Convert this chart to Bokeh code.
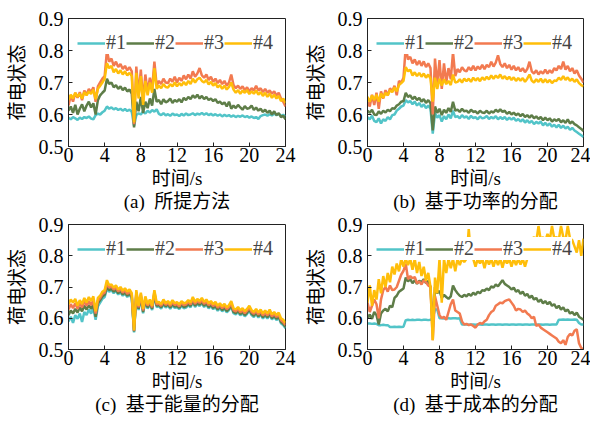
from bokeh.plotting import figure
from bokeh.layouts import column, row
from bokeh.models import FixedTicker, Range1d
from bokeh.embed import file_html
from bokeh.resources import INLINE

# time axis, 0.25 s sampling
t = [i / 4 for i in range(97)]

series_names = ["#1", "#2", "#3", "#4"]
colors = ["#52C4C8", "#5E7D48", "#F27A50", "#FFBE0A"]
x_ticks = [0, 4, 8, 12, 16, 20, 24]
y_ticks = [0.5, 0.6, 0.7, 0.8, 0.9]
captions = ["(a)\u00a0\u00a0所提方法", "(b)\u00a0\u00a0基于功率的分配",
            "(c)\u00a0\u00a0基于能量的分配", "(d)\u00a0\u00a0基于成本的分配"]
x_label = "时间/s"
y_label = "荷电状态"

# ---------- (a) proposed method ----------
a1 = [0.590, 0.585, 0.592, 0.588, 0.583, 0.590, 0.586, 0.592, 0.589, 0.594, 0.587, 0.585,
      0.598, 0.603, 0.600, 0.607, 0.612, 0.625, 0.618, 0.622, 0.616, 0.620, 0.614, 0.618,
      0.612, 0.617, 0.611, 0.615, 0.608, 0.565, 0.598, 0.604, 0.600, 0.610, 0.603, 0.612,
      0.606, 0.614, 0.609, 0.616, 0.602, 0.598, 0.604, 0.597, 0.601, 0.596, 0.603, 0.598,
      0.600, 0.595, 0.602, 0.597, 0.603, 0.598, 0.600, 0.604, 0.598, 0.603, 0.600, 0.605,
      0.599, 0.604, 0.598, 0.602, 0.597, 0.601, 0.596, 0.600, 0.594, 0.599, 0.595, 0.598,
      0.593, 0.597, 0.592, 0.596, 0.593, 0.597, 0.592, 0.595, 0.590, 0.594, 0.589, 0.592,
      0.586, 0.595, 0.598, 0.600, 0.596, 0.601, 0.597, 0.603, 0.598, 0.602, 0.596, 0.599,
      0.594]
a2 = [0.612, 0.625, 0.605, 0.630, 0.600, 0.618, 0.632, 0.610, 0.628, 0.640, 0.622, 0.635,
      0.600, 0.645, 0.660, 0.668, 0.675, 0.712, 0.695, 0.700, 0.685, 0.692, 0.680, 0.688,
      0.676, 0.684, 0.672, 0.678, 0.665, 0.560, 0.640, 0.610, 0.655, 0.605, 0.640, 0.620,
      0.650, 0.628, 0.680, 0.640, 0.645, 0.632, 0.648, 0.638, 0.642, 0.650, 0.636, 0.645,
      0.640, 0.648, 0.638, 0.652, 0.645, 0.655, 0.648, 0.660, 0.652, 0.662, 0.650, 0.658,
      0.648, 0.655, 0.645, 0.650, 0.642, 0.648, 0.636, 0.640, 0.632, 0.638, 0.625, 0.640,
      0.618, 0.628, 0.620, 0.630, 0.622, 0.615, 0.626, 0.618, 0.620, 0.628, 0.614, 0.622,
      0.612, 0.618, 0.608, 0.615, 0.605, 0.612, 0.600, 0.610, 0.598, 0.604, 0.592, 0.596,
      0.585]
a3 = [0.628, 0.660, 0.640, 0.668, 0.652, 0.670, 0.645, 0.675, 0.662, 0.680, 0.670, 0.685,
      0.640, 0.688, 0.700, 0.712, 0.720, 0.800, 0.765, 0.775, 0.752, 0.765, 0.748, 0.758,
      0.742, 0.752, 0.738, 0.748, 0.735, 0.570, 0.750, 0.660, 0.740, 0.640, 0.725, 0.670,
      0.715, 0.680, 0.765, 0.690, 0.705, 0.695, 0.712, 0.700, 0.698, 0.712, 0.702, 0.718,
      0.700, 0.715, 0.705, 0.722, 0.710, 0.725, 0.712, 0.735, 0.718, 0.728, 0.745, 0.722,
      0.715, 0.725, 0.708, 0.718, 0.702, 0.712, 0.698, 0.708, 0.695, 0.705, 0.690, 0.700,
      0.725, 0.692, 0.682, 0.690, 0.680, 0.688, 0.676, 0.685, 0.672, 0.682, 0.675, 0.690,
      0.675, 0.682, 0.670, 0.680, 0.668, 0.675, 0.665, 0.672, 0.660, 0.668, 0.650, 0.640,
      0.625]
a4 = [0.645, 0.662, 0.650, 0.668, 0.655, 0.665, 0.650, 0.670, 0.660, 0.672, 0.664, 0.678,
      0.648, 0.680, 0.690, 0.700, 0.712, 0.760, 0.745, 0.752, 0.732, 0.742, 0.728, 0.738,
      0.725, 0.735, 0.722, 0.730, 0.720, 0.575, 0.730, 0.650, 0.720, 0.630, 0.705, 0.660,
      0.700, 0.668, 0.745, 0.680, 0.690, 0.682, 0.695, 0.686, 0.684, 0.695, 0.688, 0.700,
      0.688, 0.698, 0.690, 0.702, 0.692, 0.705, 0.695, 0.712, 0.700, 0.710, 0.715, 0.705,
      0.700, 0.708, 0.694, 0.702, 0.690, 0.698, 0.685, 0.692, 0.680, 0.690, 0.678, 0.686,
      0.700, 0.678, 0.668, 0.676, 0.665, 0.675, 0.668, 0.676, 0.664, 0.672, 0.665, 0.675,
      0.662, 0.670, 0.658, 0.668, 0.655, 0.665, 0.652, 0.662, 0.650, 0.658, 0.642, 0.650,
      0.635]

# ---------- (b) power-based allocation ----------
b1 = [0.592, 0.585, 0.596, 0.580, 0.576, 0.588, 0.572, 0.585, 0.580, 0.592, 0.585, 0.598,
      0.600, 0.612, 0.618, 0.625, 0.628, 0.645, 0.638, 0.642, 0.632, 0.640, 0.628, 0.636,
      0.624, 0.632, 0.620, 0.628, 0.618, 0.540, 0.605, 0.590, 0.598, 0.578, 0.595, 0.585,
      0.600, 0.588, 0.612, 0.592, 0.595, 0.588, 0.598, 0.590, 0.594, 0.586, 0.596, 0.589,
      0.592, 0.585, 0.594, 0.588, 0.590, 0.595, 0.586, 0.592, 0.588, 0.595, 0.585, 0.592,
      0.586, 0.592, 0.583, 0.590, 0.584, 0.590, 0.580, 0.586, 0.578, 0.585, 0.575, 0.582,
      0.574, 0.580, 0.570, 0.577, 0.572, 0.578, 0.566, 0.574, 0.565, 0.572, 0.562, 0.568,
      0.560, 0.568, 0.558, 0.565, 0.556, 0.562, 0.552, 0.558, 0.550, 0.545, 0.540, 0.535,
      0.530]
b2 = [0.612, 0.605, 0.615, 0.600, 0.598, 0.610, 0.602, 0.612, 0.606, 0.615, 0.610, 0.620,
      0.618, 0.628, 0.632, 0.640, 0.642, 0.668, 0.655, 0.660, 0.648, 0.656, 0.645, 0.652,
      0.640, 0.648, 0.636, 0.645, 0.635, 0.550, 0.625, 0.605, 0.618, 0.598, 0.615, 0.605,
      0.620, 0.608, 0.640, 0.612, 0.615, 0.608, 0.618, 0.610, 0.612, 0.605, 0.615, 0.608,
      0.610, 0.603, 0.612, 0.606, 0.605, 0.612, 0.603, 0.610, 0.606, 0.615, 0.608, 0.616,
      0.608, 0.612, 0.602, 0.608, 0.600, 0.606, 0.598, 0.603, 0.595, 0.602, 0.592, 0.598,
      0.590, 0.598, 0.588, 0.594, 0.586, 0.592, 0.582, 0.590, 0.582, 0.588, 0.578, 0.585,
      0.580, 0.586, 0.576, 0.582, 0.574, 0.585, 0.572, 0.578, 0.570, 0.566, 0.560, 0.555,
      0.548]
b3 = [0.640, 0.625, 0.662, 0.630, 0.668, 0.618, 0.672, 0.650, 0.676, 0.660, 0.682, 0.672,
      0.690, 0.660, 0.705, 0.700, 0.715, 0.812, 0.772, 0.780, 0.760, 0.772, 0.755, 0.768,
      0.752, 0.766, 0.748, 0.760, 0.745, 0.600, 0.775, 0.690, 0.770, 0.680, 0.760, 0.700,
      0.745, 0.710, 0.795, 0.720, 0.742, 0.732, 0.748, 0.738, 0.735, 0.748, 0.738, 0.752,
      0.738, 0.750, 0.742, 0.755, 0.742, 0.755, 0.748, 0.765, 0.750, 0.762, 0.785, 0.758,
      0.748, 0.760, 0.745, 0.755, 0.740, 0.752, 0.738, 0.748, 0.735, 0.745, 0.732, 0.742,
      0.765, 0.735, 0.728, 0.738, 0.725, 0.735, 0.728, 0.740, 0.728, 0.738, 0.730, 0.745,
      0.738, 0.752, 0.742, 0.765, 0.740, 0.752, 0.735, 0.745, 0.728, 0.738, 0.722, 0.712,
      0.700]
b4 = [0.655, 0.640, 0.660, 0.645, 0.662, 0.640, 0.665, 0.652, 0.668, 0.660, 0.676, 0.670,
      0.685, 0.672, 0.692, 0.698, 0.705, 0.748, 0.735, 0.740, 0.722, 0.732, 0.720, 0.730,
      0.718, 0.728, 0.715, 0.725, 0.712, 0.640, 0.715, 0.680, 0.712, 0.690, 0.710, 0.695,
      0.705, 0.692, 0.725, 0.700, 0.702, 0.710, 0.700, 0.712, 0.704, 0.712, 0.702, 0.715,
      0.706, 0.714, 0.704, 0.716, 0.708, 0.718, 0.710, 0.722, 0.712, 0.722, 0.714, 0.725,
      0.712, 0.720, 0.710, 0.718, 0.708, 0.716, 0.705, 0.714, 0.706, 0.714, 0.702, 0.712,
      0.725, 0.706, 0.700, 0.710, 0.702, 0.712, 0.700, 0.710, 0.700, 0.708, 0.698, 0.706,
      0.705, 0.715, 0.708, 0.720, 0.708, 0.716, 0.705, 0.712, 0.702, 0.710, 0.698, 0.692,
      0.688]

# ---------- (c) energy-based allocation ----------
c1 = [0.590, 0.605, 0.585, 0.610, 0.598, 0.615, 0.588, 0.620, 0.610, 0.628, 0.615, 0.632,
      0.595, 0.638, 0.650, 0.662, 0.668, 0.695, 0.685, 0.690, 0.680, 0.688, 0.676, 0.684,
      0.672, 0.680, 0.668, 0.676, 0.664, 0.555, 0.674, 0.626, 0.666, 0.616, 0.654, 0.631,
      0.644, 0.626, 0.674, 0.636, 0.638, 0.631, 0.644, 0.634, 0.641, 0.630, 0.642, 0.633,
      0.636, 0.629, 0.640, 0.632, 0.634, 0.642, 0.635, 0.651, 0.636, 0.646, 0.639, 0.648,
      0.636, 0.644, 0.632, 0.639, 0.629, 0.636, 0.624, 0.632, 0.622, 0.630, 0.619, 0.626,
      0.638, 0.616, 0.612, 0.620, 0.609, 0.616, 0.606, 0.614, 0.624, 0.610, 0.604, 0.614,
      0.602, 0.612, 0.599, 0.608, 0.599, 0.611, 0.596, 0.604, 0.594, 0.602, 0.584, 0.578,
      0.568]
c2 = [0.610, 0.625, 0.615, 0.630, 0.618, 0.635, 0.622, 0.640, 0.628, 0.642, 0.630, 0.645,
      0.605, 0.648, 0.658, 0.670, 0.675, 0.700, 0.690, 0.695, 0.685, 0.692, 0.680, 0.688,
      0.676, 0.684, 0.672, 0.680, 0.668, 0.558, 0.678, 0.630, 0.670, 0.620, 0.658, 0.635,
      0.648, 0.630, 0.678, 0.640, 0.642, 0.635, 0.648, 0.638, 0.645, 0.634, 0.646, 0.637,
      0.640, 0.633, 0.644, 0.636, 0.638, 0.646, 0.639, 0.655, 0.640, 0.650, 0.643, 0.652,
      0.640, 0.648, 0.636, 0.643, 0.633, 0.640, 0.628, 0.636, 0.626, 0.634, 0.623, 0.630,
      0.642, 0.620, 0.616, 0.624, 0.613, 0.620, 0.610, 0.618, 0.628, 0.614, 0.608, 0.618,
      0.606, 0.616, 0.603, 0.612, 0.603, 0.615, 0.600, 0.608, 0.598, 0.606, 0.588, 0.582,
      0.572]
c3 = [0.628, 0.645, 0.632, 0.648, 0.630, 0.648, 0.635, 0.655, 0.640, 0.655, 0.642, 0.658,
      0.615, 0.656, 0.665, 0.678, 0.682, 0.712, 0.698, 0.702, 0.692, 0.698, 0.686, 0.694,
      0.682, 0.690, 0.678, 0.686, 0.674, 0.560, 0.684, 0.635, 0.676, 0.625, 0.664, 0.640,
      0.654, 0.635, 0.684, 0.645, 0.647, 0.640, 0.654, 0.643, 0.650, 0.640, 0.652, 0.642,
      0.646, 0.638, 0.650, 0.642, 0.644, 0.652, 0.644, 0.662, 0.646, 0.656, 0.649, 0.658,
      0.646, 0.654, 0.642, 0.649, 0.639, 0.646, 0.634, 0.642, 0.632, 0.640, 0.629, 0.636,
      0.648, 0.626, 0.622, 0.630, 0.619, 0.626, 0.616, 0.624, 0.634, 0.620, 0.614, 0.624,
      0.612, 0.622, 0.609, 0.618, 0.609, 0.621, 0.606, 0.614, 0.604, 0.612, 0.594, 0.588,
      0.578]
c4 = [0.645, 0.660, 0.650, 0.662, 0.640, 0.658, 0.645, 0.665, 0.650, 0.668, 0.655, 0.670,
      0.622, 0.665, 0.672, 0.685, 0.690, 0.722, 0.705, 0.708, 0.698, 0.705, 0.692, 0.700,
      0.688, 0.696, 0.685, 0.692, 0.680, 0.562, 0.690, 0.640, 0.682, 0.630, 0.670, 0.645,
      0.660, 0.640, 0.690, 0.650, 0.652, 0.645, 0.660, 0.648, 0.655, 0.645, 0.658, 0.648,
      0.652, 0.644, 0.655, 0.648, 0.650, 0.658, 0.650, 0.668, 0.652, 0.662, 0.655, 0.665,
      0.652, 0.660, 0.648, 0.655, 0.645, 0.652, 0.640, 0.648, 0.638, 0.646, 0.635, 0.642,
      0.655, 0.632, 0.628, 0.636, 0.625, 0.632, 0.622, 0.630, 0.640, 0.626, 0.620, 0.630,
      0.618, 0.628, 0.615, 0.625, 0.615, 0.628, 0.612, 0.620, 0.610, 0.618, 0.600, 0.595,
      0.585]

# ---------- (d) cost-based allocation ----------
d1 = [0.583, 0.583, 0.582, 0.583, 0.582, 0.578, 0.578, 0.579, 0.578, 0.578, 0.572, 0.572,
      0.573, 0.572, 0.573, 0.572, 0.573, 0.594, 0.595, 0.594, 0.595, 0.594, 0.595, 0.595,
      0.594, 0.595, 0.595, 0.594, 0.595, 0.600, 0.628, 0.628, 0.600, 0.600, 0.599, 0.600,
      0.600, 0.599, 0.600, 0.600, 0.599, 0.600, 0.580, 0.580, 0.580, 0.579, 0.580, 0.580,
      0.579, 0.580, 0.580, 0.579, 0.580, 0.580, 0.579, 0.580, 0.580, 0.579, 0.580, 0.580,
      0.579, 0.580, 0.580, 0.579, 0.580, 0.580, 0.579, 0.580, 0.580, 0.579, 0.580, 0.580,
      0.579, 0.580, 0.580, 0.579, 0.580, 0.580, 0.579, 0.580, 0.580, 0.579, 0.580, 0.580,
      0.580, 0.595, 0.595, 0.596, 0.595, 0.596, 0.595, 0.595, 0.596, 0.595, 0.585, 0.580,
      0.580]
d2 = [0.600, 0.612, 0.598, 0.620, 0.610, 0.580, 0.615, 0.625, 0.630, 0.622, 0.640, 0.635,
      0.665, 0.672, 0.685, 0.690, 0.695, 0.730, 0.718, 0.725, 0.712, 0.722, 0.710, 0.720,
      0.715, 0.725, 0.712, 0.720, 0.700, 0.570, 0.700, 0.680, 0.688, 0.665, 0.675, 0.668,
      0.662, 0.670, 0.705, 0.690, 0.680, 0.672, 0.668, 0.675, 0.670, 0.678, 0.672, 0.682,
      0.675, 0.685, 0.680, 0.690, 0.688, 0.695, 0.690, 0.702, 0.698, 0.708, 0.702, 0.712,
      0.722, 0.710, 0.705, 0.700, 0.692, 0.698, 0.685, 0.690, 0.678, 0.685, 0.672, 0.678,
      0.665, 0.672, 0.660, 0.665, 0.652, 0.660, 0.648, 0.655, 0.645, 0.652, 0.640, 0.645,
      0.632, 0.640, 0.628, 0.635, 0.622, 0.628, 0.615, 0.620, 0.610, 0.618, 0.605, 0.600,
      0.595]
d3 = [0.650, 0.620, 0.640, 0.660, 0.645, 0.600, 0.660, 0.690, 0.700, 0.685, 0.705, 0.690,
      0.692, 0.700, 0.720, 0.740, 0.752, 0.775, 0.725, 0.735, 0.728, 0.732, 0.712, 0.718,
      0.708, 0.722, 0.715, 0.705, 0.700, 0.530, 0.670, 0.640, 0.610, 0.600, 0.605, 0.595,
      0.620, 0.645, 0.660, 0.625, 0.620, 0.615, 0.590, 0.580, 0.582, 0.578, 0.580, 0.575,
      0.570, 0.580, 0.585, 0.582, 0.590, 0.595, 0.610, 0.620, 0.625, 0.640, 0.645, 0.650,
      0.648, 0.655, 0.658, 0.660, 0.650, 0.640, 0.625, 0.630, 0.628, 0.620, 0.625, 0.615,
      0.610, 0.600, 0.605, 0.575, 0.580, 0.570, 0.565, 0.560, 0.555, 0.550, 0.545, 0.540,
      0.535, 0.525, 0.520, 0.530, 0.515, 0.540, 0.550, 0.545, 0.560, 0.565, 0.520, 0.505,
      0.500]
d4 = [0.650, 0.705, 0.640, 0.690, 0.660, 0.725, 0.680, 0.735, 0.700, 0.745, 0.715, 0.765,
      0.740, 0.775, 0.750, 0.790, 0.765, 0.790, 0.770, 0.790, 0.755, 0.790, 0.745, 0.780,
      0.735, 0.765, 0.720, 0.745, 0.700, 0.530, 0.730, 0.680, 0.790, 0.650, 0.790, 0.745,
      0.790, 0.760, 0.790, 0.750, 0.790, 0.770, 0.790, 0.780, 0.790, 0.885, 0.800, 0.790,
      0.765, 0.790, 0.775, 0.790, 0.760, 0.790, 0.772, 0.790, 0.765, 0.790, 0.770, 0.790,
      0.762, 0.790, 0.775, 0.790, 0.765, 0.790, 0.770, 0.790, 0.772, 0.790, 0.765, 0.790,
      0.820, 0.850, 0.860, 0.845, 0.895, 0.850, 0.860, 0.845, 0.870, 0.850, 0.895, 0.855,
      0.860, 0.850, 0.895, 0.860, 0.850, 0.895, 0.855, 0.850, 0.830, 0.810, 0.850, 0.800,
      0.855]

panels = [[a1, a2, a3, a4], [b1, b2, b3, b4], [c1, c2, c3, c4], [d1, d2, d3, d4]]

SERIF = "Liberation Serif"
MIXED = "Liberation Serif, Noto Sans CJK SC"


def make_panel(series, caption, fw, fh, bl, br, bt, bb):
    p = figure(frame_width=fw, frame_height=fh,
               x_range=Range1d(0, 24), y_range=Range1d(0.5, 0.9),
               output_backend="svg", toolbar_location=None,
               min_border_left=bl, min_border_right=br,
               min_border_top=bt, min_border_bottom=bb,
               background_fill_color="white", border_fill_color="white")
    p.xgrid.visible = False
    p.ygrid.visible = False
    p.outline_line_color = "#222222"
    p.outline_line_width = 1
    p.outline_line_alpha = 1

    for ys, name, col in zip(series, series_names, colors):
        p.line(t, ys, line_color=col, line_width=2.5, legend_label=name)

    for ax in (p.xaxis[0], p.yaxis[0]):
        ax.major_tick_in = 4
        ax.major_tick_out = 0
        ax.minor_tick_in = 0
        ax.minor_tick_out = 0
        ax.axis_line_color = "#222222"
        ax.major_tick_line_color = "#222222"
        ax.major_label_text_font = SERIF
        ax.major_label_text_font_size = "20px"
        ax.major_label_text_color = "black"
        ax.axis_label_text_font = MIXED
        ax.axis_label_text_font_size = "19px"
        ax.axis_label_text_font_style = "normal"
        ax.axis_label_text_color = "black"

    p.xaxis.ticker = FixedTicker(ticks=x_ticks)
    p.yaxis.ticker = FixedTicker(ticks=y_ticks)
    # x-axis label with the panel caption as its second line
    p.xaxis.axis_label = x_label + "\n" + caption
    p.xaxis.axis_label_text_line_height = 1.1
    p.xaxis.axis_label_text_align = "center"
    p.yaxis.axis_label = y_label
    p.xaxis.major_label_standoff = 1
    p.yaxis.major_label_standoff = 5
    p.xaxis.axis_label_standoff = 3
    p.yaxis.axis_label_standoff = 8

    lg = p.legend[0]
    lg.orientation = "horizontal"
    lg.location = (9, fh - 36)
    lg.padding = 2
    lg.margin = 0
    lg.spacing = 0
    lg.label_standoff = 1
    lg.glyph_width = 28
    lg.glyph_height = 20
    lg.label_height = 20
    lg.label_text_font = SERIF
    lg.label_text_font_size = "20px"
    lg.border_line_color = None
    lg.background_fill_color = "white"
    lg.background_fill_alpha = 1
    return p


pa = make_panel(panels[0], captions[0], 217, 128, 68, 13, 18, 60)
pb = make_panel(panels[1], captions[1], 216, 128, 69, 7, 18, 60)
pc = make_panel(panels[2], captions[2], 217, 125, 68, 13, 10, 60)
pd = make_panel(panels[3], captions[3], 216, 125, 69, 7, 10, 60)

layout = column(row(pa, pb, spacing=0), row(pc, pd, spacing=0), spacing=0)

open("out.html", "w").write(file_html(layout, INLINE))
